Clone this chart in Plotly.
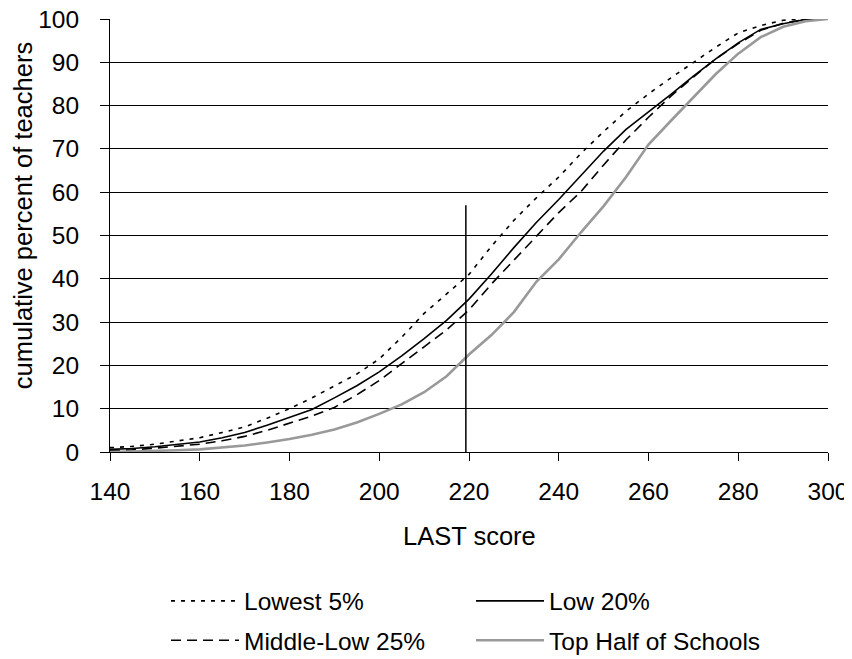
import plotly.graph_objects as go

# LAST score grid (x axis)
scores = [140, 145, 150, 155, 160, 165, 170, 175, 180, 185, 190, 195, 200, 205, 210, 215,
          220, 225, 230, 235, 240, 245, 250, 255, 260, 265, 270, 275, 280, 285, 290, 295, 300]

# cumulative percent of teachers, by school group
lowest_5 = [1.0, 1.3, 1.8, 2.5, 3.3, 4.5, 5.8, 7.8, 10.0, 12.5, 15.3, 18.0, 21.5, 26.5, 32.0, 36.5,
            41.0, 47.5, 53.5, 58.7, 63.5, 69.0, 74.0, 78.7, 82.7, 86.4, 90.0, 93.5, 96.8, 98.5, 99.7, 100.0, 100.0]
low_20 = [0.6, 0.8, 1.2, 1.7, 2.3, 3.3, 4.5, 6.2, 8.0, 9.8, 12.5, 15.3, 18.5, 22.2, 26.2, 30.4,
          35.3, 41.1, 47.2, 53.0, 58.3, 64.0, 69.5, 74.5, 78.5, 82.6, 86.8, 90.8, 94.5, 97.6, 98.9, 99.9, 100.0]
middle_low_25 = [0.3, 0.5, 0.9, 1.3, 1.8, 2.6, 3.6, 5.0, 6.6, 8.3, 10.3, 13.2, 16.5, 20.3, 24.3, 28.2,
                 32.8, 38.8, 44.2, 49.8, 55.3, 60.2, 66.3, 72.1, 77.3, 82.2, 86.6, 90.8, 94.3, 97.4, 99.0, 99.9, 100.0]
top_half = [0.0, 0.1, 0.2, 0.4, 0.6, 1.0, 1.5, 2.2, 3.0, 4.0, 5.2, 6.8, 8.8, 11.0, 13.8, 17.5,
            22.5, 27.0, 32.3, 39.3, 44.5, 50.8, 56.8, 63.5, 71.0, 76.5, 82.0, 87.3, 92.0, 95.8, 98.2, 99.5, 100.0]

series_names = ["Lowest 5%", "Low 20%", "Middle-Low 25%", "Top Half of Schools"]

# reference cutoff line
cutoff_score = 219.3
cutoff_top = 57

x_ticks = [140, 160, 180, 200, 220, 240, 260, 280, 300]
y_ticks = [0, 10, 20, 30, 40, 50, 60, 70, 80, 90, 100]

FONT = "Liberation Sans, Arial, sans-serif"

fig = go.Figure()

fig.add_trace(go.Scatter(x=scores, y=lowest_5, mode="lines", name=series_names[0],
                         line=dict(color="black", width=1.6, dash="4px,6px"), legend="legend"))
fig.add_trace(go.Scatter(x=scores, y=low_20, mode="lines", name=series_names[1],
                         line=dict(color="black", width=1.6), legend="legend2"))
fig.add_trace(go.Scatter(x=scores, y=middle_low_25, mode="lines", name=series_names[2],
                         line=dict(color="black", width=1.6, dash="10px,6px"), legend="legend3"))
fig.add_trace(go.Scatter(x=scores, y=top_half, mode="lines", name=series_names[3],
                         line=dict(color="#999999", width=2.6), legend="legend4"))

fig.add_trace(go.Scatter(x=[cutoff_score, cutoff_score], y=[0, cutoff_top], mode="lines",
                         line=dict(color="black", width=1.5), showlegend=False, hoverinfo="skip"))

legend_common = dict(
    orientation="v", font=dict(family=FONT, size=24.5, color="black"),
    bgcolor="rgba(0,0,0,0)", borderwidth=0, itemwidth=68,
    xanchor="left", yanchor="top",
)

# the page body adds an 8px margin, so the figure is 8px smaller and margins shifted
fig.update_layout(
    width=844, height=651,
    margin=dict(l=102, r=24, t=11, b=207, autoexpand=False),
    plot_bgcolor="white", paper_bgcolor="white",
    font=dict(family=FONT, size=24.5, color="black"),
    showlegend=True,
    legend=dict(x=0.078, y=-0.292, **legend_common),
    legend2=dict(x=0.5028, y=-0.292, **legend_common),
    legend3=dict(x=0.078, y=-0.383, **legend_common),
    legend4=dict(x=0.5028, y=-0.383, **legend_common),
    xaxis=dict(
        range=[140, 300], tickmode="array", tickvals=x_ticks,
        showgrid=False, zeroline=False, showline=True, linecolor="black", linewidth=1,
        ticks="outside", ticklen=8, tickcolor="black", tickwidth=1,
        tickfont=dict(family=FONT, size=24.5, color="black"), ticklabelstandoff=10,
        ticklabeloverflow="allow",
    ),
    yaxis=dict(
        range=[0, 100], tickmode="array", tickvals=y_ticks,
        showgrid=True, gridcolor="black", gridwidth=1, zeroline=False,
        showline=True, linecolor="black", linewidth=1,
        ticks="outside", ticklen=9, tickcolor="black", tickwidth=1,
        tickfont=dict(family=FONT, size=24.5, color="black"), ticklabelstandoff=16,
        ticklabeloverflow="allow",
    ),
    annotations=[
        dict(text="LAST score", xref="paper", yref="paper", x=0.5, y=-0.194,
             xanchor="center", yanchor="middle", showarrow=False,
             font=dict(family=FONT, size=25.5, color="black")),
        dict(text="cumulative percent of teachers", xref="paper", yref="paper",
             x=-0.1212, y=0.547, textangle=-90, xanchor="center", yanchor="middle",
             showarrow=False, font=dict(family=FONT, size=25.5, color="black")),
    ],
)

fig.write_html("out.html")
